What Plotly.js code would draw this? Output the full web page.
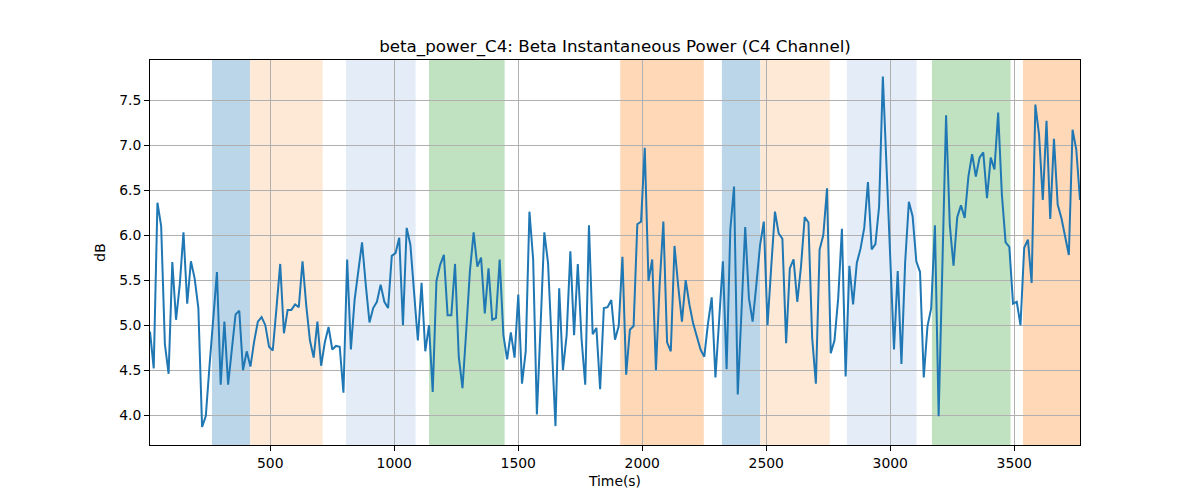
<!DOCTYPE html>
<html>
<head>
<meta charset="utf-8">
<script src="https://cdn.plot.ly/plotly-3.0.1.min.js"></script>
<style>html,body{margin:0;padding:0;background:#fff;}#chart{width:1200px;height:500px;}</style>
</head>
<body>
<div id="chart"></div>
<script>
// Time stamps (s)
const timeSec = [
  15,30,45,60,75,90,105,120,135,150,
  165,180,195,210,225,240,255,270,285,300,
  315,330,345,360,375,390,405,420,435,450,
  465,480,495,510,525,540,555,570,585,600,
  615,630,645,660,675,690,705,720,735,750,
  765,780,795,810,825,840,855,870,885,900,
  915,930,945,960,975,990,1005,1020,1035,1050,
  1065,1080,1095,1110,1125,1140,1155,1170,1185,1200,
  1215,1230,1245,1260,1275,1290,1305,1320,1335,1350,
  1365,1380,1395,1410,1425,1440,1455,1470,1485,1500,
  1515,1530,1545,1560,1575,1590,1605,1620,1635,1650,
  1665,1680,1695,1710,1725,1740,1755,1770,1785,1800,
  1815,1830,1845,1860,1875,1890,1905,1920,1935,1950,
  1965,1980,1995,2010,2025,2040,2055,2070,2085,2100,
  2115,2130,2145,2160,2175,2190,2205,2220,2235,2250,
  2265,2280,2295,2310,2325,2340,2355,2370,2385,2400,
  2415,2430,2445,2460,2475,2490,2505,2520,2535,2550,
  2565,2580,2595,2610,2625,2640,2655,2670,2685,2700,
  2715,2730,2745,2760,2775,2790,2805,2820,2835,2850,
  2865,2880,2895,2910,2925,2940,2955,2970,2985,3000,
  3015,3030,3045,3060,3075,3090,3105,3120,3135,3150,
  3165,3180,3195,3210,3225,3240,3255,3270,3285,3300,
  3315,3330,3345,3360,3375,3390,3405,3420,3435,3450,
  3465,3480,3495,3510,3525,3540,3555,3570,3585,3600,
  3615,3630,3645,3660,3675,3690,3705,3720,3735,3750,
  3765
];

// Beta instantaneous power (dB)
const betaPowerDb = [
  4.93,4.52,6.36,6.10,4.79,4.46,5.70,5.06,5.45,6.03,
  5.24,5.71,5.52,5.19,3.87,3.99,4.55,5.03,5.59,4.34,
  5.04,4.34,4.74,5.12,5.16,4.50,4.71,4.54,4.82,5.04,
  5.09,5.00,4.76,4.72,5.19,5.68,4.91,5.17,5.17,5.23,
  5.20,5.71,5.22,4.83,4.64,5.04,4.55,4.81,4.98,4.73,
  4.77,4.76,4.25,5.73,4.73,5.28,5.60,5.92,5.45,5.03,
  5.19,5.26,5.45,5.26,5.19,5.77,5.80,5.97,5.00,6.08,
  5.89,5.35,4.83,5.47,4.71,5.00,4.26,5.49,5.67,5.78,
  5.11,5.11,5.68,4.65,4.30,4.93,5.60,6.03,5.65,5.75,
  5.13,5.63,5.06,5.08,5.73,4.89,4.62,4.92,4.64,5.34,
  4.35,4.71,6.26,5.73,4.01,5.00,6.03,5.69,4.80,3.88,
  5.41,4.50,4.89,5.82,4.89,5.68,4.85,4.34,6.11,4.90,
  4.97,4.29,5.19,5.20,5.28,4.84,4.99,5.76,4.45,4.95,
  4.99,6.12,6.15,6.97,5.49,5.73,4.50,5.45,6.15,4.81,
  4.71,5.88,5.43,5.04,5.50,5.23,5.02,4.86,4.73,4.65,
  5.02,5.31,4.42,5.06,5.71,4.51,6.06,6.54,4.23,5.15,
  6.09,5.30,5.04,5.45,5.89,6.15,5.00,5.65,6.26,6.02,
  5.96,4.80,5.63,5.73,5.26,5.65,6.20,6.14,4.86,4.35,
  5.84,6.00,6.52,4.69,4.83,5.30,6.07,4.43,5.66,5.23,
  5.69,5.85,6.08,6.59,5.84,5.90,6.32,7.76,6.75,5.72,
  4.73,5.60,4.57,5.70,6.37,6.21,5.71,5.59,4.42,4.99,
  5.19,6.11,3.99,5.65,7.33,6.11,5.66,6.20,6.33,6.19,
  6.65,6.90,6.65,6.86,6.92,6.41,6.86,6.73,7.36,6.45,
  5.92,5.87,5.24,5.26,5.00,5.86,5.95,5.47,7.45,7.11,
  6.39,7.27,6.18,7.07,6.34,6.19,5.99,5.78,7.17,6.95,
  6.39
];

// Shaded intervals (s) and their kind
const bandStart = [265, 419, 805, 1140, 1911, 2321, 2476, 2825, 3168, 3535];
const bandEnd   = [419, 711, 1086, 1445, 2248, 2476, 2756, 3106, 3485, 3765];
const bandKind  = ['blue','lightorange','lightblue','green','orange','blue','lightorange','lightblue','green','orange'];

const xTicks = [500, 1000, 1500, 2000, 2500, 3000, 3500];
const yTicks = [4.0, 4.5, 5.0, 5.5, 6.0, 6.5, 7.0, 7.5];

const kindColor = {
  blue: 'rgb(188,214,233)',
  lightorange: 'rgb(254,233,214)',
  lightblue: 'rgb(228,237,247)',
  green: 'rgb(192,226,192)',
  orange: 'rgb(255,217,183)'
};

const shapes = bandStart.map((s, i) => ({
  type: 'rect', xref: 'x', yref: 'paper',
  x0: s, x1: bandEnd[i], y0: 0, y1: 1,
  fillcolor: kindColor[bandKind[i]], line: {width: 0}, layer: 'below'
}));

const font = 'DejaVu Sans, sans-serif';

const trace = {
  x: timeSec, y: betaPowerDb, type: 'scatter', mode: 'lines',
  line: {color: '#1f77b4', width: 2}, hoverinfo: 'skip'
};

const layout = {
  width: 1200, height: 500,
  margin: {l: 150, r: 120, t: 60, b: 55},
  paper_bgcolor: '#ffffff', plot_bgcolor: '#ffffff',
  showlegend: false,
  font: {family: font, color: '#000', size: 13.9},
  title: {
    text: 'beta_power_C4: Beta Instantaneous Power (C4 Channel)',
    font: {family: font, size: 16.7, color: '#000'},
    x: 0.5125, xanchor: 'center', xref: 'container',
    y: 1 - 46/500, yref: 'container', yanchor: 'middle'
  },
  xaxis: {
    range: [15, 3765], tickvals: xTicks, ticks: 'outside', ticklen: 5, tickwidth: 1, tickcolor: '#000',
    showline: true, mirror: true, linecolor: '#000', linewidth: 1,
    showgrid: true, gridcolor: '#b0b0b0', gridwidth: 1, zeroline: false,
    tickfont: {family: font, size: 13.9, color: '#000'},
    title: {text: 'Time(s)', font: {family: font, size: 13.9, color: '#000'}, standoff: 6}
  },
  yaxis: {
    range: [3.67, 7.944], tickvals: yTicks, tickformat: '.1f', ticks: 'outside', ticklen: 5, tickwidth: 1, tickcolor: '#000',
    showline: true, mirror: true, linecolor: '#000', linewidth: 1,
    showgrid: true, gridcolor: '#b0b0b0', gridwidth: 1, zeroline: false,
    tickfont: {family: font, size: 13.9, color: '#000'},
    title: {text: 'dB', font: {family: font, size: 13.9, color: '#000'}, standoff: 10}
  },
  shapes: shapes
};

Plotly.newPlot('chart', [trace], layout, {staticPlot: true, displayModeBar: false});
</script>
</body>
</html>
